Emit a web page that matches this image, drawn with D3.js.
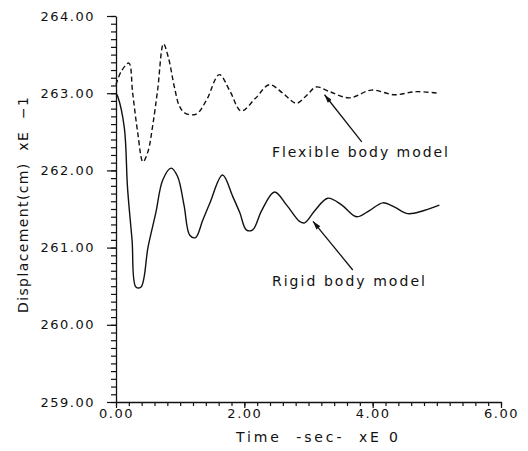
<!DOCTYPE html>
<html><head><meta charset="utf-8">
<script src="https://cdn.jsdelivr.net/npm/d3@7"></script>
<style>
html,body{margin:0;padding:0;background:#fff;}
svg{display:block;}
text{font-family:"DejaVu Sans",sans-serif;fill:#111;}
</style></head>
<body><svg id="c" width="528" height="451"></svg>
<script>
// ---- data ----
const flexT = [0, 0.08, 0.20, 0.26, 0.34, 0.42, 0.50, 0.57, 0.65, 0.74, 0.82, 0.91, 0.99, 1.08, 1.25, 1.41, 1.61, 1.78, 1.95, 2.17, 2.39, 2.60, 2.81, 2.97, 3.12, 3.33, 3.64, 3.98, 4.34, 4.68, 5.02];
const flexV = [263.11, 263.28, 263.39, 263.00, 262.48, 262.11, 262.25, 262.57, 263.05, 263.64, 263.45, 263.08, 262.83, 262.74, 262.73, 262.91, 263.24, 263.02, 262.77, 262.93, 263.11, 263.00, 262.87, 262.97, 263.08, 263.02, 262.94, 263.04, 262.98, 263.02, 263.00];
const rigidT = [0, 0.03, 0.13, 0.18, 0.25, 0.31, 0.39, 0.50, 0.62, 0.73, 0.86, 0.96, 1.06, 1.15, 1.24, 1.35, 1.46, 1.66, 1.82, 1.93, 2.03, 2.13, 2.27, 2.47, 2.66, 2.86, 2.94, 3.10, 3.30, 3.52, 3.75, 3.95, 4.16, 4.35, 4.55, 4.80, 5.04];
const rigidV = [263.00, 262.95, 262.55, 261.77, 261.10, 260.49, 260.49, 261.01, 261.45, 261.88, 262.03, 261.92, 261.55, 261.16, 261.13, 261.35, 261.57, 261.94, 261.66, 261.45, 261.23, 261.23, 261.48, 261.72, 261.55, 261.34, 261.32, 261.48, 261.64, 261.55, 261.40, 261.48, 261.58, 261.52, 261.44, 261.48, 261.55];
const xTicks = [0, 2, 4, 6];
const yTicks = [259, 260, 261, 262, 263, 264];
const xTitle = "Time  -sec-  xE 0";
const yTitle = "Displacement(cm)  xE  \u22121";
const labels = [
  {text: "Flexible body model", t: 2.43, v: 262.17, len: 176},
  {text: "Rigid body model", t: 2.43, v: 260.50, len: 153}
];
const arrows = [
  {t0: 3.83, v0: 262.37, t1: 3.25, v1: 262.98},
  {t0: 3.69, v0: 260.71, t1: 3.07, v1: 261.34}
];

// ---- chart ----
const svg = d3.select("#c");
const x = d3.scaleLinear().domain([0, 6]).range([116, 501]);
const y = d3.scaleLinear().domain([259, 264]).range([402, 16]);

// y minor ticks
svg.append("g").attr("transform", "translate(116,0)")
  .call(d3.axisLeft(y).tickValues(d3.range(259, 264.001, 0.1)).tickSize(5).tickSizeOuter(0).tickFormat(""))
  .call(g => g.select(".domain").remove());
// y major
const ya = svg.append("g").attr("transform", "translate(116,0)")
  .call(d3.axisLeft(y).tickValues(yTicks).tickSize(9).tickSizeOuter(0).tickPadding(12).tickFormat(d3.format(".2f")));
// x minor
svg.append("g").attr("transform", "translate(0,402)")
  .call(d3.axisBottom(x).tickValues(d3.range(0, 6.001, 0.2)).tickSize(4).tickSizeOuter(0).tickFormat(""))
  .call(g => g.select(".domain").remove());
const xa = svg.append("g").attr("transform", "translate(0,402)")
  .call(d3.axisBottom(x).tickValues(xTicks).tickSize(6).tickSizeOuter(0).tickPadding(1).tickFormat(d3.format(".2f")));

svg.selectAll(".domain").attr("stroke", "#111").attr("stroke-width", 1.3);
svg.selectAll(".tick line").attr("stroke", "#111").attr("stroke-width", 1.2);
svg.selectAll(".tick text").attr("font-size", 13).attr("letter-spacing", "1.5px")
  .attr("font-family", "DejaVu Sans").attr("fill", "#111");

// lines
const line = d3.line().x(d => x(d[0])).y(d => y(d[1])).curve(d3.curveCatmullRom.alpha(0.5));
svg.append("path").datum(flexT.map((t, i) => [t, flexV[i]]))
  .attr("d", line).attr("fill", "none").attr("stroke", "#111").attr("stroke-width", 1.4)
  .attr("stroke-dasharray", "5,3");
svg.append("path").datum(rigidT.map((t, i) => [t, rigidV[i]]))
  .attr("d", line).attr("fill", "none").attr("stroke", "#111").attr("stroke-width", 1.4);

// annotations
svg.append("defs").append("marker").attr("id", "ah").attr("viewBox", "0 0 10 6")
  .attr("refX", 10).attr("refY", 3).attr("markerWidth", 10).attr("markerHeight", 5)
  .attr("markerUnits", "userSpaceOnUse").attr("orient", "auto")
  .append("path").attr("d", "M0,0 L10,3 L0,6 Z").attr("fill", "#111");
arrows.forEach(a => {
  svg.append("line").attr("x1", x(a.t0)).attr("y1", y(a.v0)).attr("x2", x(a.t1)).attr("y2", y(a.v1))
    .attr("stroke", "#111").attr("stroke-width", 1.3).attr("marker-end", "url(#ah)");
});
labels.forEach(l => {
  svg.append("text").attr("x", x(l.t)).attr("y", y(l.v)).attr("font-size", 14)
    .attr("textLength", l.len).attr("lengthAdjust", "spacing").style("white-space", "pre").text(l.text);
});

// titles
svg.append("text").attr("x", 317).attr("y", 442).attr("text-anchor", "middle").attr("font-size", 14)
  .attr("textLength", 162).attr("lengthAdjust", "spacing").style("white-space", "pre").text(xTitle);
svg.append("text").attr("transform", "translate(28,205) rotate(-90)").attr("text-anchor", "middle")
  .attr("font-size", 14).attr("textLength", 216).attr("lengthAdjust", "spacing")
  .style("white-space", "pre").text(yTitle);
</script></body></html>
